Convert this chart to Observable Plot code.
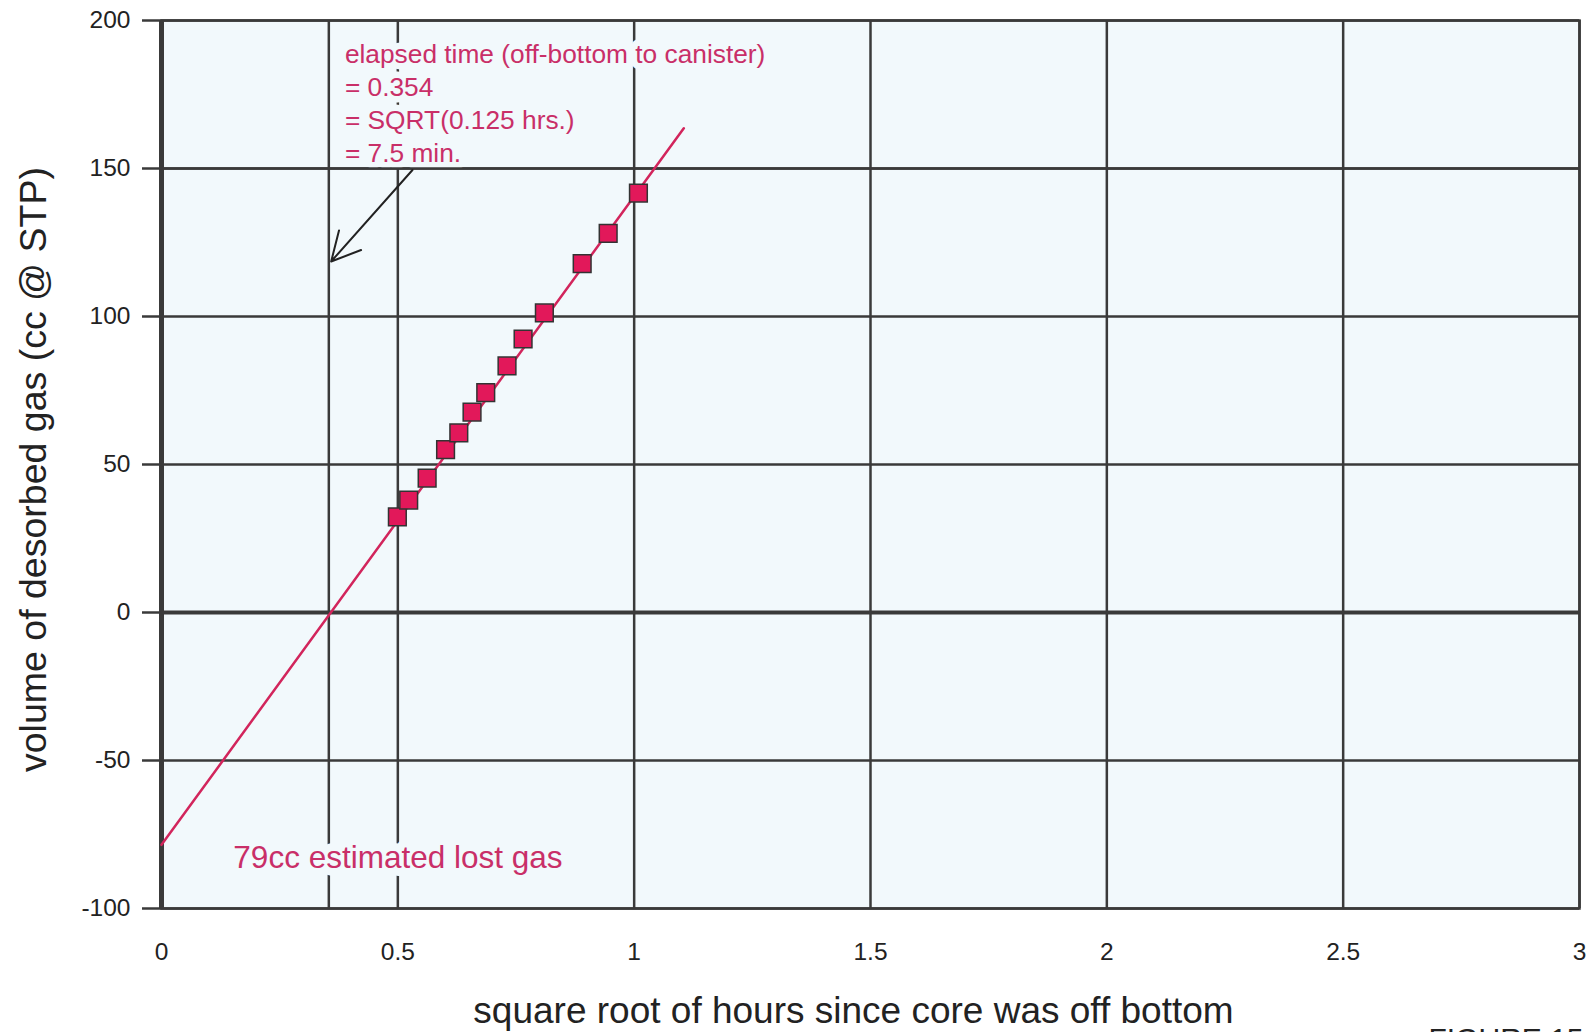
<!DOCTYPE html>
<html>
<head>
<meta charset="utf-8">
<script src="https://cdn.jsdelivr.net/npm/d3@7"></script>
<script src="https://cdn.jsdelivr.net/npm/@observablehq/plot@0.6"></script>
<style>
  html, body { margin: 0; padding: 0; background: #ffffff; }
  #chart { width: 1594px; height: 1032px; overflow: hidden; }
</style>
</head>
<body>
<div id="chart"></div>
<script>
// ---- data ----
const xTicks = [0, 0.5, 1, 1.5, 2, 2.5, 3];
const yTicks = [-100, -50, 0, 50, 100, 150, 200];
const sqrtHours = [0.499, 0.523, 0.562, 0.601, 0.629, 0.657, 0.686, 0.731, 0.765, 0.810, 0.890, 0.945, 1.009];
const volume    = [32.3, 38.0, 45.4, 55.0, 60.7, 67.7, 74.3, 83.3, 92.4, 101.2, 117.9, 128.1, 141.7];
const fitX = [0, 1.105];
const fitY = [-78.5, 163.6];
const elapsedSqrt = [0.354];
const arrowFrom = [0.531, 149.5];
const arrowTo = [0.359, 118.6];
const annotationLines = [
  "elapsed time (off-bottom to canister)",
  "= 0.354",
  "= SQRT(0.125 hrs.)",
  "= 7.5 min."
];
const annotationAt = [0.388, 193.5];
const lostGasLabel = "79cc estimated lost gas";
const lostGasAt = [0.152, -82.8];
const xLabel = "square root of hours since core was off bottom";
const yLabel = "volume of desorbed gas (cc @ STP)";
const figureLabel = "FIGURE 15";

// ---- build ----
const points = sqrtHours.map((x, i) => ({x, y: volume[i]}));
const fit = fitX.map((x, i) => ({x, y: fitY[i]}));

const bg = "#f2f9fc";
const grid = "#3a3a3a";
const pink = "#c92f68";
const lineColor = "#d2255c";
const fmt = d => String(d);

const chart = Plot.plot({
  width: 1594,
  height: 1032,
  marginLeft: 161,
  marginRight: 15,
  marginTop: 20,
  marginBottom: 124,
  style: {fontFamily: "'Liberation Sans', Arial, Helvetica, sans-serif", background: "#ffffff", color: "#222", overflow: "visible"},
  x: {domain: [0, 3]},
  y: {domain: [-100, 200]},
  marks: [
    Plot.frame({fill: bg, stroke: grid, strokeWidth: 2.5}),
    Plot.ruleX(xTicks, {stroke: grid, strokeWidth: 2.5}),
    Plot.ruleY(yTicks, {stroke: grid, strokeWidth: 2.5}),
    Plot.ruleY([0], {stroke: grid, strokeWidth: 4}),
    Plot.ruleX([0], {stroke: grid, strokeWidth: 5}),
    Plot.ruleX(elapsedSqrt, {stroke: grid, strokeWidth: 2.5}),
    Plot.axisY({ticks: yTicks, tickSize: 19, tickPadding: 12, tickFormat: fmt, fontSize: 24.5, stroke: grid, strokeWidth: 2.5, label: null}),
    Plot.axisX({ticks: xTicks, tickSize: 0, tickPadding: 34, tickFormat: fmt, fontSize: 24.5, label: null}),
    Plot.text([annotationLines.join("\n")], {
      x: annotationAt[0], y: annotationAt[1], text: d => d,
      textAnchor: "start", lineAnchor: "top", lineHeight: 1.25,
      fontSize: 26.3, fill: pink, stroke: bg, strokeWidth: 13
    }),
    Plot.ruleY([150], {stroke: grid, strokeWidth: 2.5}),
    Plot.text([lostGasLabel], {
      x: lostGasAt[0], y: lostGasAt[1], text: d => d,
      textAnchor: "start", lineAnchor: "middle",
      fontSize: 31.5, fill: pink, stroke: bg, strokeWidth: 16
    }),
    Plot.line(fit, {x: "x", y: "y", stroke: lineColor, strokeWidth: 2.5}),
    Plot.dot(points, {x: "x", y: "y", symbol: "square", r: 10, fill: "#e2185a", stroke: "#333", strokeWidth: 1.5}),
    Plot.arrow([{x1: arrowFrom[0], y1: arrowFrom[1], x2: arrowTo[0], y2: arrowTo[1]}], {
      x1: "x1", y1: "y1", x2: "x2", y2: "y2", stroke: "#222", strokeWidth: 2, headLength: 24, headAngle: 55
    }),
    Plot.text([xLabel], {frameAnchor: "bottom", text: d => d, dx: -17, dy: 114, textAnchor: "middle", lineAnchor: "bottom", fontSize: 37, fill: "#222"}),
    Plot.text([yLabel], {frameAnchor: "left", text: d => d, dx: -128, dy: 5, rotate: -90, textAnchor: "middle", lineAnchor: "middle", fontSize: 37.5, fill: "#222"}),
    Plot.text([figureLabel], {frameAnchor: "bottom-right", text: d => d, dx: -151, dy: 140, textAnchor: "start", lineAnchor: "bottom", fontSize: 30, fill: "#222"})
  ]
});
document.getElementById("chart").appendChild(chart);
</script>
</body>
</html>
